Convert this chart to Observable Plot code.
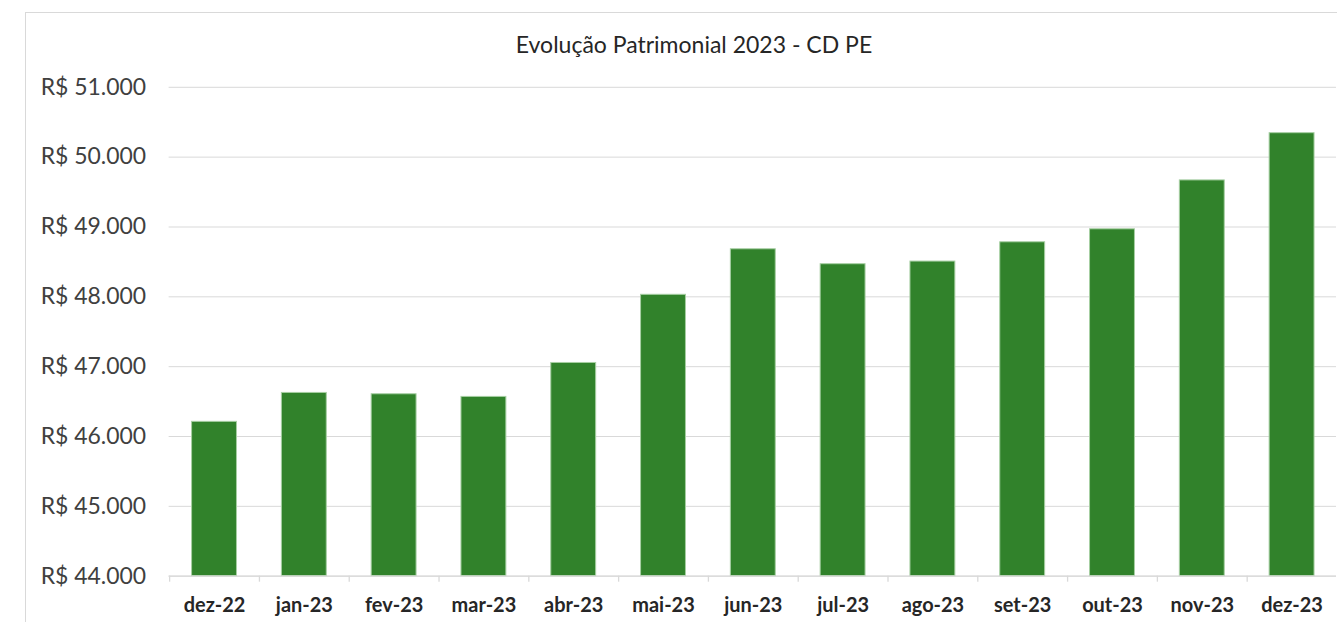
<!DOCTYPE html>
<html>
<head>
<meta charset="utf-8">
<script src="https://cdn.jsdelivr.net/npm/d3@7"></script>
<script src="https://cdn.jsdelivr.net/npm/@observablehq/plot@0.6"></script>
<style>
  html, body { margin: 0; padding: 0; background: #fff; overflow: hidden; width: 1337px; height: 622px; }
  #frame { position: absolute; left: 25px; top: 12px; width: 1340px; height: 640px; border: 1px solid #d9d9d9; box-sizing: border-box; }
  #title { position: absolute; left: 0; width: 1388px; top: 29px; text-align: center; font-family: Lato, sans-serif; font-size: 23px; color: #262626; line-height: 30px; }
  #chart { position: absolute; left: 0; top: 0; }
</style>
</head>
<body>
<div id="frame"></div>
<div id="title">Evolução Patrimonial 2023 - CD PE</div>
<div id="chart"></div>
<script>
const months = ["dez-22","jan-23","fev-23","mar-23","abr-23","mai-23","jun-23","jul-23","ago-23","set-23","out-23","nov-23","dez-23"];
const values = [46210, 46624, 46605, 46567, 47053, 48029, 48681, 48467, 48505, 48781, 48967, 49667, 50343];
const yTicks = [44000, 45000, 46000, 47000, 48000, 49000, 50000, 51000];

const data = months.map((m, i) => ({month: m, value: values[i]}));
const locale = d3.formatLocale({decimal: ",", thousands: ".", grouping: [3], currency: ["R$ ", ""]});
const fmt = locale.format("$,.0f");

const chart = Plot.plot({
  width: 1340,
  height: 622,
  marginTop: 87,
  marginBottom: 45,
  marginLeft: 169,
  marginRight: 1,
  style: {fontFamily: "Lato, sans-serif", background: "transparent"},
  x: {domain: months, paddingInner: 0.5, paddingOuter: 0.25, align: 0.5, label: null},
  y: {domain: [44000, 51000], label: null},
  marks: [
    Plot.gridY(yTicks, {stroke: "#d9d9d9", strokeOpacity: 1, strokeWidth: 1}),
    Plot.barY(data, {x: "month", y1: 44000, y2: "value", fill: "#31822b", stroke: "#a7cfa3", strokeWidth: 1}),
    Plot.ruleY([44000], {stroke: "#d9d9d9", strokeWidth: 1.3}),
    Plot.ruleX(months, {x: d => d, dx: -45, insetTop: 490, insetBottom: -6, stroke: "#d9d9d9", strokeWidth: 1.3}),
    Plot.axisY(yTicks, {tickSize: 0, tickPadding: 23, tickFormat: fmt, fontSize: 23, fill: "#404040", label: null}),
    Plot.axisX({tickSize: 0, tickPadding: 22, fontSize: 20, fontWeight: "bold", fill: "#262626", label: null})
  ]
});
document.getElementById("chart").appendChild(chart);
</script>
</body>
</html>
